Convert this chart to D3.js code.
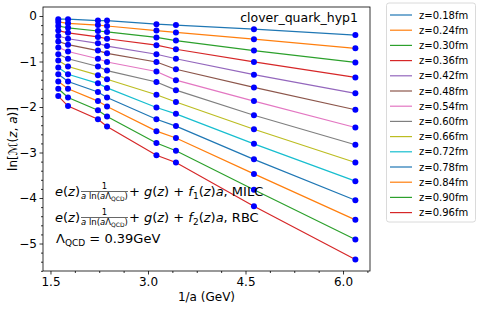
<!DOCTYPE html>
<meta charset="utf-8">
<script src="https://cdnjs.cloudflare.com/ajax/libs/d3/7.8.5/d3.min.js"></script>
<style>
  body { margin: 0; background: white; }
  text { font-family: "DejaVu Sans", sans-serif; fill: black; }
</style>
<body>
<div id="chart"></div>
<script>
// 1/a values (GeV) where the lattices sit
var invA = [1.62, 1.77, 2.23, 2.37, 3.13, 3.43, 4.63, 6.19];

var zLabels = ["z=0.18fm", "z=0.24fm", "z=0.30fm", "z=0.36fm", "z=0.42fm", "z=0.48fm", "z=0.54fm",
               "z=0.60fm", "z=0.66fm", "z=0.72fm", "z=0.78fm", "z=0.84fm", "z=0.90fm", "z=0.96fm"];

// ln M(z,a) at each 1/a, one array per z
var z018 = [-0.07, -0.07, -0.10, -0.10, -0.18, -0.20, -0.29, -0.42];
var z024 = [-0.13, -0.16, -0.20, -0.22, -0.32, -0.36, -0.51, -0.71];
var z030 = [-0.22, -0.26, -0.33, -0.35, -0.47, -0.54, -0.76, -1.02];
var z036 = [-0.32, -0.37, -0.46, -0.50, -0.64, -0.73, -1.01, -1.35];
var z042 = [-0.44, -0.50, -0.60, -0.66, -0.84, -0.94, -1.29, -1.70];
var z048 = [-0.56, -0.63, -0.76, -0.82, -1.01, -1.17, -1.57, -2.06];
var z054 = [-0.69, -0.78, -0.94, -1.01, -1.22, -1.41, -1.87, -2.45];
var z060 = [-0.84, -0.94, -1.11, -1.20, -1.45, -1.63, -2.18, -2.83];
var z066 = [-0.98, -1.11, -1.30, -1.39, -1.73, -1.89, -2.49, -3.22];
var z072 = [-1.13, -1.28, -1.48, -1.58, -2.01, -2.15, -2.81, -3.63];
var z078 = [-1.28, -1.44, -1.67, -1.79, -2.27, -2.42, -3.15, -4.05];
var z084 = [-1.44, -1.60, -1.87, -1.99, -2.53, -2.68, -3.47, -4.48];
var z090 = [-1.60, -1.79, -2.07, -2.21, -2.79, -2.96, -3.82, -4.91];
var z096 = [-1.76, -1.98, -2.27, -2.43, -3.06, -3.22, -4.18, -5.35];
var series = [z018, z024, z030, z036, z042, z048, z054, z060, z066, z072, z078, z084, z090, z096];

var xTicks = [1.5, 3.0, 4.5, 6.0];
var yTicks = [0, -1, -2, -3, -4, -5];

var colors = ["#1f77b4", "#ff7f0e", "#2ca02c", "#d62728", "#9467bd", "#8c564b", "#e377c2",
              "#7f7f7f", "#bcbd22", "#17becf"];

var W = 480, H = 309;
var L = 43, R = 370, T = 7, B = 271;

var svg = d3.select("#chart").append("svg")
  .attr("width", W)
  .attr("height", H);

var x = d3.scaleLinear().domain([1.385, 6.415]).range([L, R]);
var y = d3.scaleLinear().domain([0.198, -5.604]).range([T, B]);

// minor ticks
var xMinor = d3.range(1.5, 6.42, 0.375).filter(function(v) { return xTicks.indexOf(+v.toFixed(3)) < 0; });
var yMinor = d3.range(0, -5.61, -0.2).filter(function(v) { return Math.abs(v - Math.round(v)) > 0.01; });

var fmtX = function(d) { return d3.format(".1f")(d); };
var fmtY = function(d) { return d === 0 ? "0" : "\u2212" + Math.abs(d); };

var xAxis = svg.append("g").attr("transform", "translate(0," + B + ")")
  .call(d3.axisBottom(x).tickValues(xTicks).tickFormat(fmtX).tickSize(3.5).tickPadding(2.5));
svg.append("g").attr("transform", "translate(0," + B + ")")
  .call(d3.axisBottom(x).tickValues(xMinor).tickFormat("").tickSize(2));
var yAxis = svg.append("g").attr("transform", "translate(" + L + ",0)")
  .call(d3.axisLeft(y).tickValues(yTicks).tickFormat(fmtY).tickSize(3.5).tickPadding(2.5));
svg.append("g").attr("transform", "translate(" + L + ",0)")
  .call(d3.axisLeft(y).tickValues(yMinor).tickFormat("").tickSize(2));

svg.selectAll(".domain").remove();
svg.selectAll(".tick line").attr("stroke", "black").attr("stroke-width", 0.8);
svg.selectAll(".tick text").style("font-size", "12px").style("font-family", "DejaVu Sans");

// frame
svg.append("rect")
  .attr("x", L).attr("y", T)
  .attr("width", R - L).attr("height", B - T)
  .attr("fill", "none").attr("stroke", "black").attr("stroke-width", 0.8);

var plot = svg.append("g");

var line = d3.line()
  .x(function(d, i) { return x(invA[i]); })
  .y(function(d) { return y(d); });

series.forEach(function(s, k) {
  plot.append("path")
    .datum(s)
    .attr("d", line)
    .attr("fill", "none")
    .attr("stroke", colors[k % 10])
    .attr("stroke-width", 1.2);
  plot.selectAll(null)
    .data(s)
    .enter().append("circle")
    .attr("cx", function(d, i) { return x(invA[i]); })
    .attr("cy", function(d) { return y(d); })
    .attr("r", 3)
    .attr("fill", "#0000ff");
});

// title inside the axes
svg.append("text")
  .attr("x", 358).attr("y", 22)
  .attr("text-anchor", "end")
  .style("font-size", "12.5px")
  .text("clover_quark_hyp1");

// axis labels
svg.append("text")
  .attr("x", (L + R) / 2).attr("y", 301)
  .attr("text-anchor", "middle")
  .style("font-size", "12px")
  .text("1/a (GeV)");

var ylab = svg.append("text")
  .attr("transform", "translate(17," + ((T + B) / 2) + ") rotate(-90)")
  .attr("text-anchor", "middle")
  .style("font-size", "12px");
ylab.append("tspan").text("ln[");
ylab.append("tspan").style("font-style", "italic").text("\u2133");
ylab.append("tspan").text("(");
ylab.append("tspan").style("font-style", "italic").text("z");
ylab.append("tspan").text(", ");
ylab.append("tspan").style("font-style", "italic").text("a");
ylab.append("tspan").text(")]");

// annotation text with the fraction
function mathLine(x0, yb, suffixParts) {
  var g = svg.append("g");
  var pre = g.append("text").attr("x", x0).attr("y", yb).style("font-size", "13px");
  pre.append("tspan").style("font-style", "italic").text("e");
  pre.append("tspan").text("(");
  pre.append("tspan").style("font-style", "italic").text("z");
  pre.append("tspan").text(")");
  var w = pre.node().getComputedTextLength();
  var fx = x0 + w + 1;

  var den = g.append("text").attr("y", yb + 3).style("font-size", "8.5px");
  den.append("tspan").style("font-style", "italic").text("a");
  den.append("tspan").text(" ln(");
  den.append("tspan").style("font-style", "italic").text("a");
  den.append("tspan").text("\u039b");
  den.append("tspan").attr("dy", 1.5).style("font-size", "6px").text("QCD");
  den.append("tspan").attr("dy", -1.5).text(")");
  var dw = den.node().getComputedTextLength();
  den.attr("x", fx);

  g.append("text").attr("x", fx + dw / 2).attr("y", yb - 7)
    .attr("text-anchor", "middle").style("font-size", "8.5px").text("1");
  g.append("line")
    .attr("x1", fx).attr("x2", fx + dw)
    .attr("y1", yb - 4.5).attr("y2", yb - 4.5)
    .attr("stroke", "black").attr("stroke-width", 0.6);

  var post = g.append("text").attr("x", fx + dw + 1).attr("y", yb).style("font-size", "13px");
  suffixParts.forEach(function(p) {
    var t = post.append("tspan").text(p[0]);
    if (p[1] === "i") t.style("font-style", "italic");
    if (p[1] === "sub") t.attr("dy", 2.5).style("font-size", "9px");
    if (p[1] === "up") t.attr("dy", -2.5);
  });
}

mathLine(55, 196, [[" + ", "n"], ["g", "i"], ["(", "n"], ["z", "i"], [") + ", "n"], ["f", "i"],
                   ["1", "sub"], ["(", "up"], ["z", "i"], [")", "n"], ["a", "i"], [", MILC", "n"]]);
mathLine(55, 222, [[" + ", "n"], ["g", "i"], ["(", "n"], ["z", "i"], [") + ", "n"], ["f", "i"],
                   ["2", "sub"], ["(", "up"], ["z", "i"], [")", "n"], ["a", "i"], [", RBC", "n"]]);

var lam = svg.append("text").attr("x", 56).attr("y", 243).style("font-size", "13px");
lam.append("tspan").text("\u039b");
lam.append("tspan").attr("dy", 2.5).style("font-size", "9px").text("QCD");
lam.append("tspan").attr("dy", -2.5).text(" = 0.39GeV");

// legend
var leg = svg.append("g");
leg.append("rect")
  .attr("x", 386.5).attr("y", 3)
  .attr("width", 89).attr("height", 219)
  .attr("rx", 2.5)
  .attr("fill", "white")
  .attr("stroke", "#d0d0d0").attr("stroke-width", 0.8);

zLabels.forEach(function(lbl, k) {
  var yy = 15 + k * 15.2;
  leg.append("line")
    .attr("x1", 390).attr("x2", 412)
    .attr("y1", yy).attr("y2", yy)
    .attr("stroke", colors[k % 10]).attr("stroke-width", 1.2);
  leg.append("text")
    .attr("x", 419).attr("y", yy + 3.6)
    .style("font-size", "10px")
    .text(lbl);
});
</script>
</body>
